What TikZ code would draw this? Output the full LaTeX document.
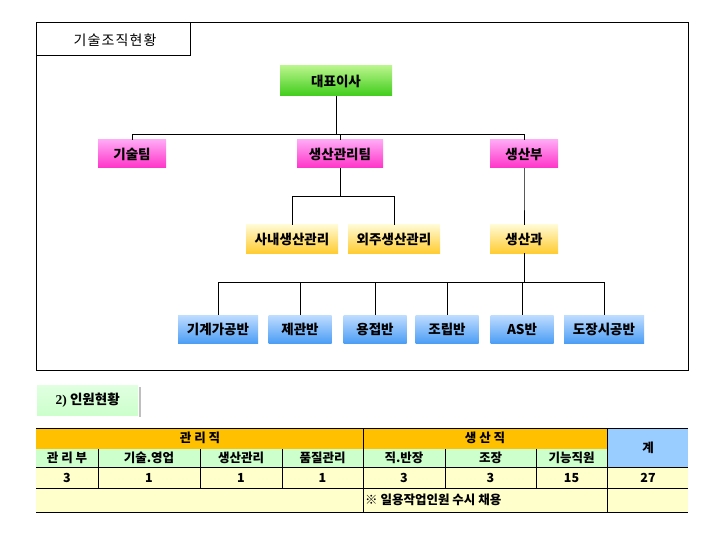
\documentclass[tikz,border=0pt]{standalone}
\usepackage{fontspec}
\newfontfamily\kr{Noto Sans CJK KR}
\newfontfamily\krwide[LetterSpace=8]{Noto Sans CJK KR}
\newfontfamily\tms{Liberation Serif}
\usetikzlibrary{positioning}

\definecolor{topgreen}{HTML}{B8F58A}
\definecolor{botgreen}{HTML}{3FCC1A}
\definecolor{toppink}{HTML}{FFA8F5}
\definecolor{botpink}{HTML}{FF33C8}
\definecolor{topyell}{HTML}{FFFAD2}
\definecolor{botyell}{HTML}{FFCC33}
\definecolor{topblue}{HTML}{BFDDFF}
\definecolor{botblue}{HTML}{4D9EF5}
\definecolor{hdorange}{HTML}{FFC000}
\definecolor{hdgreen}{HTML}{CCFFCC}
\definecolor{rowyell}{HTML}{FFFFCC}
\definecolor{sumblue}{HTML}{99CCFF}

\begin{document}
\begin{tikzpicture}[x=1pt,y=-1pt]

  \tikzset{box node/.style={rectangle, inner sep=0pt, minimum height=28pt,
  		text centered, font=\kr\bfseries\fontsize{13.5}{15}\selectfont}, }
  \tikzset{top node/.style={box node, minimum width=112pt, minimum height=30pt,
  		top color=topgreen, bottom color=botgreen}, }
  \tikzset{team node/.style={box node, minimum width=68pt,
  		top color=toppink, bottom color=botpink}, }
  \tikzset{part node/.style={box node, minimum width=92pt,
  		top color=topyell, bottom color=botyell}, }
  \tikzset{unit node/.style={box node, minimum width=63pt,
  		top color=topblue, bottom color=botblue}, }
  \tikzset{cell node/.style={inner sep=0pt, font=\kr\bfseries\fontsize{12.5}{14}\selectfont}, }
  \tikzset{linea/.style={draw=black, line width=0.8pt}, }
\useasboundingbox (0,0) rectangle (720,540);
%% frame
\draw[line width=0.7pt] (36,22) rectangle (688,370);
\draw[line width=0.7pt] (36,22) rectangle (190,55);
\node[font=\krwide\fontsize{14}{16}\selectfont] (title) at (115,40) {기술조직현황};
%% org chart
\node[top node] (1) at (336,81) {대표이사};
\node[team node] (2) at (132,154) {기술팀};
\node[team node, minimum width=86pt] (3) at (340,154) {생산관리팀};
\node[team node] (4) at (524,154) {생산부};
\node[part node] (5) at (292,239) {사내생산관리};
\node[part node] (6) at (394,239) {외주생산관리};
\node[part node, minimum width=68pt] (7) at (524,239) {생산과};
\node[unit node, minimum width=80pt] (8) at (218,329) {기계가공반};
\node[unit node] (9) at (300,329) {제관반};
\node[unit node] (10) at (375,329) {용접반};
\node[unit node] (11) at (447,329) {조립반};
\node[unit node] (12) at (522,329) {AS반};
\node[unit node, minimum width=80pt] (13) at (604,329) {도장시공반};
\foreach \x /\y /\d in{1/2/38,1/3/38,1/4/38,3/5/28,3/6/28,4/7/28,
  7/8/29,7/9/29,7/10/29,7/11/29,7/12/29,7/13/29}
  \draw[linea] (\x.south) -- ++(0,\d) -| (\y.north);
%% staff table
\fill[black!25] (139,387) rectangle (141,417);
\node[rectangle, inner sep=0pt, minimum width=101pt, minimum height=30pt,
  top color=hdgreen!60, bottom color=hdgreen, anchor=north west,
  font=\kr\bfseries\fontsize{13.5}{15}\selectfont] (sect) at (37,385) {{\tms\bfseries 2)} 인원현황};
\fill[hdorange] (36,428) rectangle (607,449);
\fill[hdgreen] (36,449) rectangle (607,467);
\fill[sumblue] (607,428) rectangle (688,467);
\fill[rowyell] (36,467) rectangle (688,512);
\draw[line width=0.6pt] (36,428) -- (688,428) (36,467) -- (688,467)
  (36,488) -- (688,488) (36,512) -- (688,512);
\foreach \c in {363,607}
  \draw[line width=0.6pt] (\c,428) -- (\c,512);
\foreach \c in {98,200,282,445,536}
  \draw[line width=0.6pt] (\c,449) -- (\c,488);
\node[cell node] (h1) at (200,438) {관 리 직};
\node[cell node] (h2) at (485,438) {생 산 직};
\node[cell node] (h3) at (648,448) {계};
\foreach \n /\c /\t in {a/67/관 리 부, b/149/기술.영업, c/241/생산관리, d/322.5/품질관리,
  e/404/직.반장, f/490.5/조장, g/571.5/기능직원}
  \node[cell node] (s\n) at (\c,458) {\t};
\foreach \n /\c /\t in {a/67/3, b/149/1, c/241/1, d/322.5/1,
  e/404/3, f/490.5/3, g/571.5/15, h/648/27}
  \node[cell node] (v\n) at (\c,478) {\t};
\node[cell node, anchor=west] (note) at (365,500) {※ 일용작업인원 수시 채용};
%%
\end{tikzpicture}
\end{document}
